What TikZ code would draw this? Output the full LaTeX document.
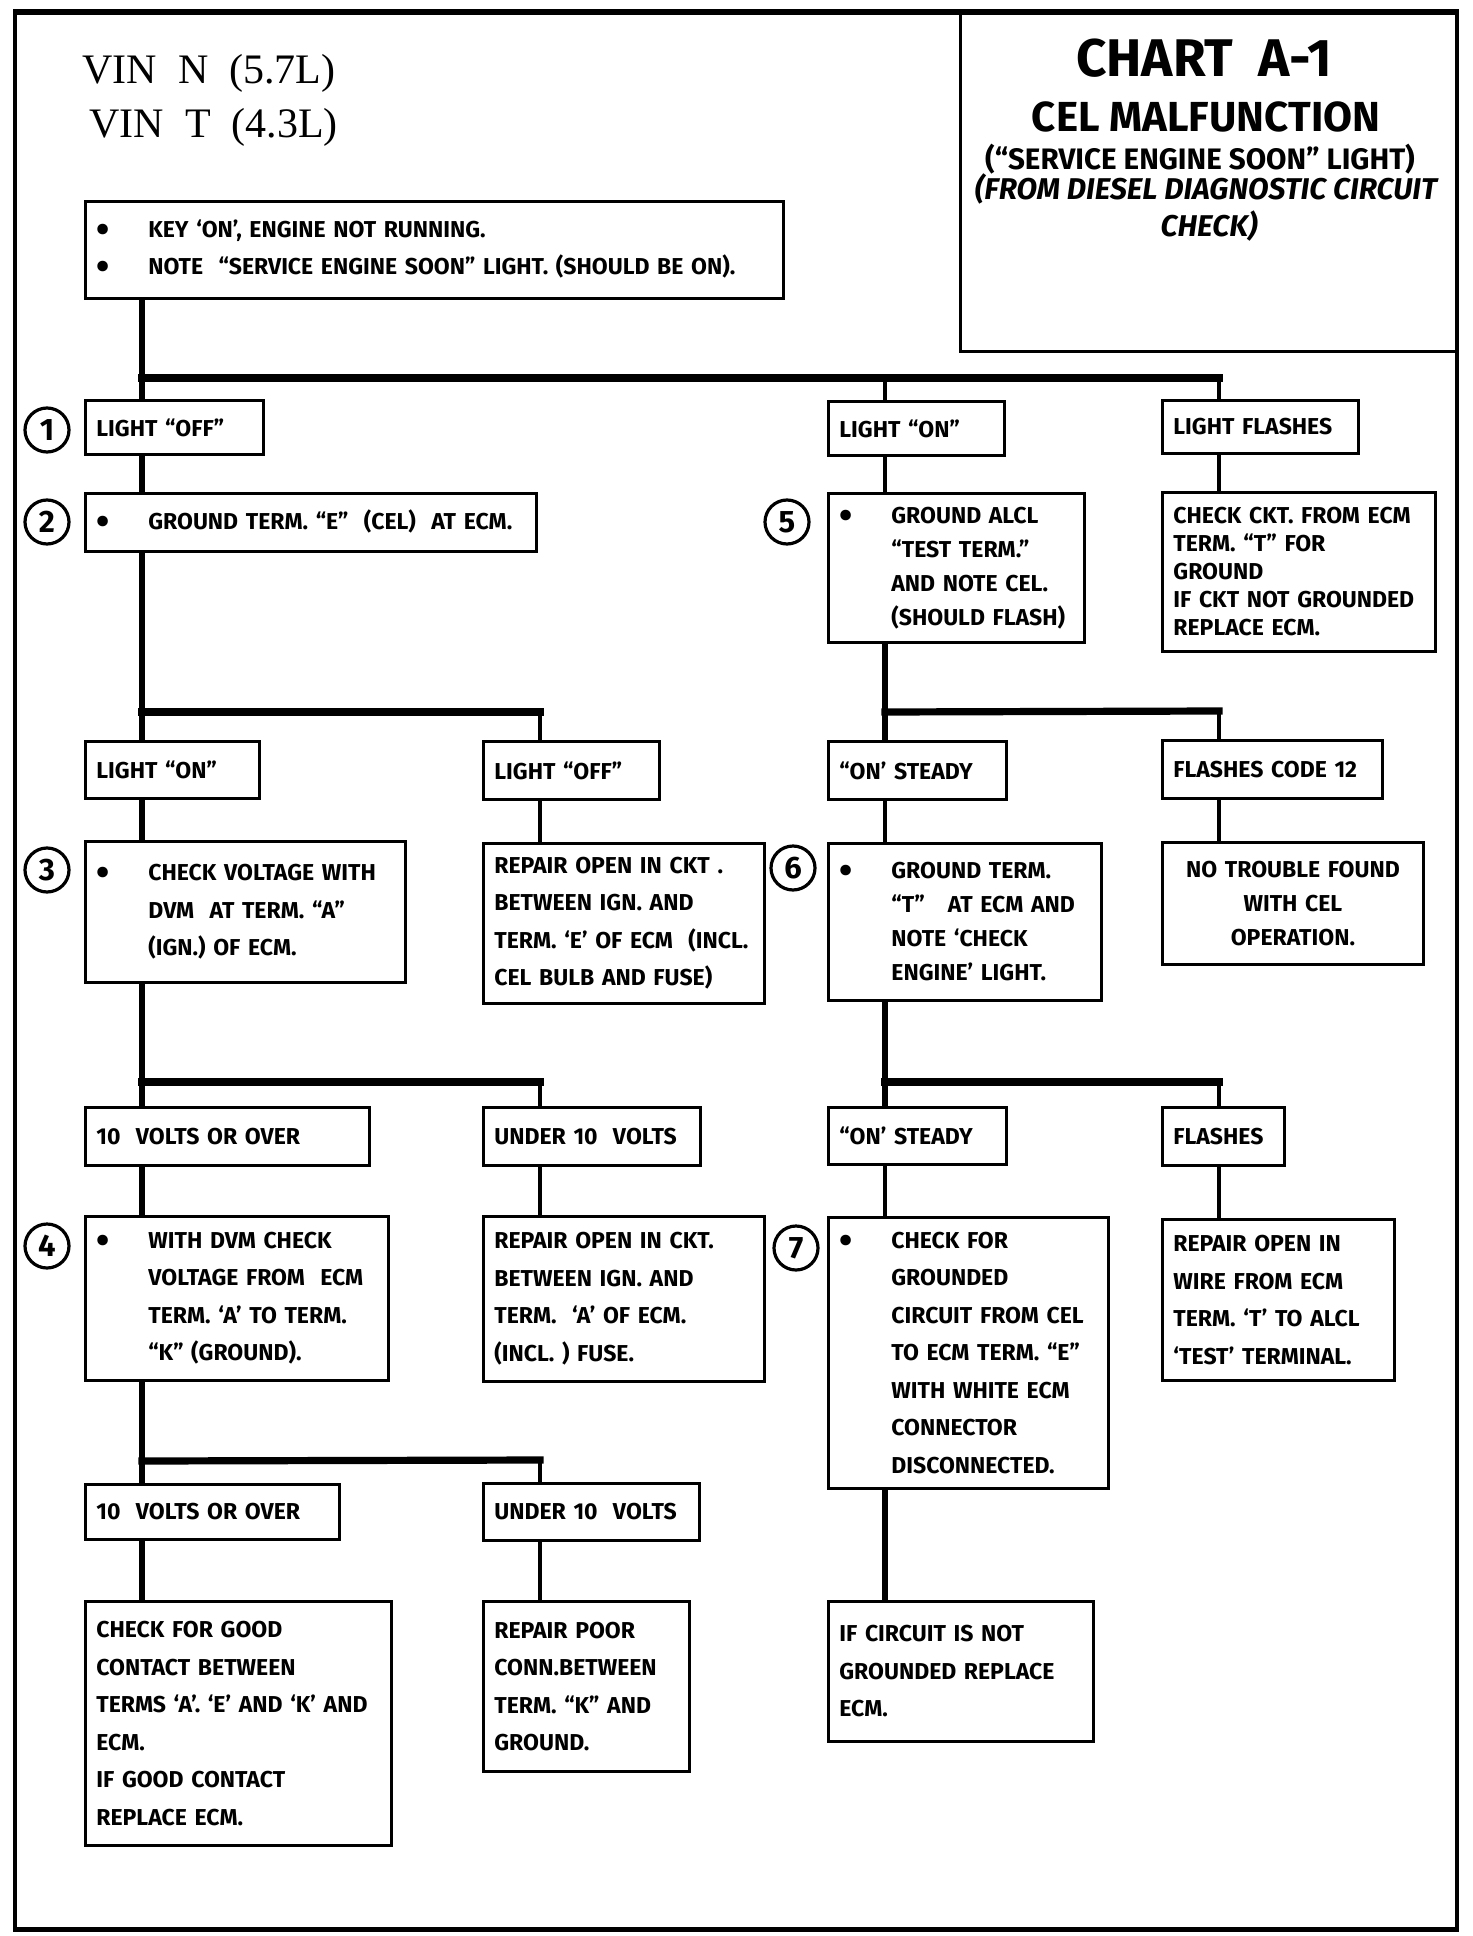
\documentclass[tikz,border=0pt]{standalone}
\usepackage{fontspec}
\setmainfont{Fira Sans}
\newfontfamily\vinfont{Liberation Serif}
\newcommand{\bul}{\makebox[26pt][l]{\raisebox{-2.5pt}{\fontsize{19}{0}\selectfont\textbullet}}}
\newcommand{\ind}{\hspace*{26pt}}
\tikzset{
  chartbox/.style 2 args={draw, line width=1.4pt, anchor=north west, align=left,
      text width=#1, minimum height=#2, inner xsep=5.5pt, inner ysep=1pt,
      font=\fontsize{11.5}{18.75}\selectfont\bfseries},
  tight/.style={font=\fontsize{11.5}{17}\selectfont\bfseries},
  packed/.style={font=\fontsize{11.5}{14}\selectfont\bfseries},
  numcirc/.style={draw, circle, line width=1.6pt, minimum size=22pt, inner sep=0pt,
      font=\fontsize{15.5}{15.5}\selectfont\bfseries},
  vinlbl/.style={anchor=base west, inner sep=0pt, font=\vinfont\fontsize{21}{21}\selectfont},
  chartlbl/.style={anchor=base, inner sep=0pt, font=\fontsize{#1}{#1}\selectfont\bfseries},
  link/.style={line width=2.8pt},
  drop/.style={line width=2.2pt},
  bus/.style={line width=3.6pt, line cap=rect},
}

\begin{document}
\begin{tikzpicture}[x=0.5pt, y=-0.5pt]
      \useasboundingbox (0,0) rectangle (1472,1936);

      % === Frame and title block ===
      \draw[line width=2.2pt] (15,12) -- (15,1929);
      \draw[line width=2.2pt] (1457,12) -- (1457,1929);
      \draw[line width=2.5pt] (13,1929) -- (1459,1929);
      \draw[line width=2.8pt] (13,12) -- (1459,12);
      \draw[line width=1.5pt] (960,12) -- (960,352) -- (1457,352);

      \node[vinlbl] (vinn) at (82,84) {VIN\ \ N\ \ (5.7L)};
      \node[vinlbl] (vint) at (89,138) {VIN\ \ T\ \ (4.3L)};

      \node[chartlbl=26.5] (chart) at (1204,77) {CHART\ \ A-1};
      \node[chartlbl=21] (celmal) at (1206,132) {CEL MALFUNCTION};
      \node[chartlbl=14.8] (sesl) at (1200,170) {(“SERVICE ENGINE SOON” LIGHT)};
      \node[chartlbl=15, font=\fontsize{15}{15}\selectfont\bfseries\itshape] (fromdd) at (1206,200) {(FROM DIESEL DIAGNOSTIC CIRCUIT};
      \node[chartlbl=15, font=\fontsize{15}{15}\selectfont\bfseries\itshape] (checkp) at (1209,237) {CHECK)};

      % === Start ===
      \node[chartbox={338pt}{48.5pt}] (keyon) at (84,200) {\bul KEY ‘ON’, ENGINE NOT RUNNING.\\ \bul NOTE\ \ “SERVICE ENGINE SOON” LIGHT. (SHOULD BE ON).};

      % === Light off / on / flashes ===
      \node[numcirc] (n1) at (47,430) {1};
      \node[chartbox={78pt}{27pt}] (off1) at (84,399) {LIGHT “OFF”};
      \node[chartbox={77pt}{27pt}] (on1) at (827,400) {LIGHT “ON”};
      \node[chartbox={87pt}{26.5pt}] (flash) at (1161,399) {LIGHT FLASHES};

      \node[numcirc] (n2) at (47,522) {2};
      \node[chartbox={214.5pt}{29pt}] (gnde) at (84,492) {\bul GROUND TERM. “E”\ \ (CEL)\ \ AT ECM.};
      \node[numcirc] (n5) at (787,522) {5};
      \node[chartbox={117pt}{74.5pt}, tight] (alcl) at (827,492) {\bul GROUND ALCL\\ \ind “TEST TERM.”\\ \ind AND NOTE CEL.\\ \ind (SHOULD FLASH)};
      \node[chartbox={125.5pt}{79.5pt}, packed] (ckt) at (1161,491) {CHECK CKT. FROM ECM\\ TERM. “T” FOR\\ GROUND\\ IF CKT NOT GROUNDED\\ REPLACE ECM.};

      % === Second row of results ===
      \node[chartbox={76pt}{28.5pt}] (on2) at (84,740) {LIGHT “ON”};
      \node[chartbox={77pt}{29pt}] (off2) at (482,740) {LIGHT “OFF”};
      \node[chartbox={78pt}{29pt}] (steady1) at (827,740) {“ON’ STEADY};
      \node[chartbox={99pt}{29pt}] (code12) at (1161,739) {FLASHES CODE 12};

      \node[numcirc] (n3) at (47,870) {3};
      \node[chartbox={149pt}{70.5pt}] (volt) at (84,840) {\bul CHECK VOLTAGE WITH\\ \ind DVM\ \ AT TERM. “A”\\ \ind (IGN.) OF ECM.};
      \node[chartbox={129.5pt}{80pt}] (rep1) at (482,842) {REPAIR OPEN IN CKT .\\ BETWEEN IGN. AND\\ TERM. ‘E’ OF ECM\ \ (INCL.\\ CEL BULB AND FUSE)};
      \node[numcirc] (n6) at (793,868) {6};
      \node[chartbox={125.5pt}{78.5pt}, tight] (gndt) at (827,842) {\bul GROUND TERM.\\ \ind “T”\ \ \ AT ECM AND\\ \ind NOTE ‘CHECK\\ \ind ENGINE’ LIGHT.};
      \node[chartbox={119.5pt}{61pt}, tight, align=center] (notrbl) at (1161,841) {NO TROUBLE FOUND\\ WITH CEL\\ OPERATION.};

      % === Voltage results ===
      \node[chartbox={131pt}{29pt}] (tenv1) at (84,1106) {10\ \ VOLTS OR OVER};
      \node[chartbox={97.5pt}{29pt}] (under1) at (482,1106) {UNDER 10\ \ VOLTS};
      \node[chartbox={78pt}{28.5pt}] (steady2) at (827,1106) {“ON’ STEADY};
      \node[chartbox={50pt}{29pt}] (flashes) at (1161,1106) {FLASHES};

      \node[numcirc] (n4) at (47,1246) {4};
      \node[chartbox={140.5pt}{82pt}] (dvm) at (84,1215) {\bul WITH DVM CHECK\\ \ind VOLTAGE FROM\ \ ECM\\ \ind TERM. ‘A’ TO TERM.\\ \ind “K” (GROUND).};
      \node[chartbox={129.5pt}{82.5pt}] (rep2) at (482,1215) {REPAIR OPEN IN CKT.\\ BETWEEN IGN. AND\\ TERM.\ \ ‘A’ OF ECM.\\ (INCL. ) FUSE.};
      \node[numcirc] (n7) at (796,1248) {7};
      \node[chartbox={129pt}{135.5pt}] (grnded) at (827,1216) {\bul CHECK FOR\\ \ind GROUNDED\\ \ind CIRCUIT FROM CEL\\ \ind TO ECM TERM. “E”\\ \ind WITH WHITE ECM\\ \ind CONNECTOR\\ \ind DISCONNECTED.};
      \node[chartbox={105pt}{80.5pt}] (wire) at (1161,1218) {REPAIR OPEN IN\\ WIRE FROM ECM\\ TERM. ‘T’ TO ALCL\\ ‘TEST’ TERMINAL.};

      % === Last checks ===
      \node[chartbox={116pt}{27.5pt}] (tenv2) at (84,1483) {10\ \ VOLTS OR OVER};
      \node[chartbox={97pt}{28.5pt}] (under2) at (482,1482) {UNDER 10\ \ VOLTS};

      \node[chartbox={142pt}{122pt}] (good) at (84,1600) {CHECK FOR GOOD\\ CONTACT BETWEEN\\ TERMS ‘A’. ‘E’ AND ‘K’ AND\\ ECM.\\ IF GOOD CONTACT\\ REPLACE ECM.};
      \node[chartbox={92pt}{85pt}] (poor) at (482,1600) {REPAIR POOR\\ CONN.BETWEEN\\ TERM. “K” AND\\ GROUND.};
      \node[chartbox={121.5pt}{70pt}] (ifcirc) at (827,1600) {IF CIRCUIT IS NOT\\ GROUNDED REPLACE\\ ECM.};

      % Lines first split
      \draw[link] ([xshift=29pt]keyon.south west) -- ([xshift=29pt]off1.north west);
      \draw[bus] ([xshift=29pt,yshift=10.5pt]off1.north west) -- ([xshift=29pt,yshift=10.5pt]flash.north west);
      \draw[drop] ([xshift=29pt]on1.north west) -- ++(0,11pt);
      \draw[drop] ([xshift=29pt]flash.north west) -- ++(0,10.5pt);
      \draw[link] ([xshift=29pt]off1.south west) -- ([xshift=29pt]gnde.north west);
      \draw[drop] ([xshift=29pt]on1.south west) -- ([xshift=29pt]alcl.north west);
      \draw[drop] ([xshift=29pt]flash.south west) -- ([xshift=29pt]ckt.north west);

      % Lines second split
      \draw[link] ([xshift=29pt]gnde.south west) -- ([xshift=29pt]on2.north west);
      \draw[bus] ([xshift=29pt,yshift=14pt]on2.north west) -- ([xshift=29pt,yshift=14pt]off2.north west);
      \draw[drop] ([xshift=29pt]off2.north west) -- ++(0,14pt);
      \draw[link] ([xshift=29pt]alcl.south west) -- ([xshift=29pt]steady1.north west);
      \draw[bus] ([xshift=29pt,yshift=14pt]steady1.north west) -- ([xshift=29pt,yshift=14pt]code12.north west);
      \draw[drop] ([xshift=29pt]code12.north west) -- ++(0,14pt);
      \draw[link] ([xshift=29pt]on2.south west) -- ([xshift=29pt]volt.north west);
      \draw[drop] ([xshift=29pt]off2.south west) -- ([xshift=29pt]rep1.north west);
      \draw[drop] ([xshift=29pt]steady1.south west) -- ([xshift=29pt]gndt.north west);
      \draw[drop] ([xshift=29pt]code12.south west) -- ([xshift=29pt]notrbl.north west);

      % Lines third split
      \draw[link] ([xshift=29pt]volt.south west) -- ([xshift=29pt]tenv1.north west);
      \draw[bus] ([xshift=29pt,yshift=12pt]tenv1.north west) -- ([xshift=29pt,yshift=12pt]under1.north west);
      \draw[drop] ([xshift=29pt]under1.north west) -- ++(0,12pt);
      \draw[link] ([xshift=29pt]gndt.south west) -- ([xshift=29pt]steady2.north west);
      \draw[bus] ([xshift=29pt,yshift=12pt]steady2.north west) -- ([xshift=29pt,yshift=12pt]flashes.north west);
      \draw[drop] ([xshift=29pt]flashes.north west) -- ++(0,12pt);
      \draw[link] ([xshift=29pt]tenv1.south west) -- ([xshift=29pt]dvm.north west);
      \draw[drop] ([xshift=29pt]under1.south west) -- ([xshift=29pt]rep2.north west);
      \draw[drop] ([xshift=29pt]steady2.south west) -- ([xshift=29pt]grnded.north west);
      \draw[drop] ([xshift=29pt]flashes.south west) -- ([xshift=29pt]wire.north west);

      % Lines last split
      \draw[link] ([xshift=29pt]dvm.south west) -- ([xshift=29pt]tenv2.north west);
      \draw[bus] ([xshift=29pt,yshift=11pt]tenv2.north west) -- ([xshift=29pt,yshift=11pt]under2.north west);
      \draw[drop] ([xshift=29pt]under2.north west) -- ++(0,11pt);
      \draw[link] ([xshift=29pt]tenv2.south west) -- ([xshift=29pt]good.north west);
      \draw[drop] ([xshift=29pt]under2.south west) -- ([xshift=29pt]poor.north west);
      \draw[link] ([xshift=29pt]grnded.south west) -- ([xshift=29pt]ifcirc.north west);
    \end{tikzpicture}
\end{document}
